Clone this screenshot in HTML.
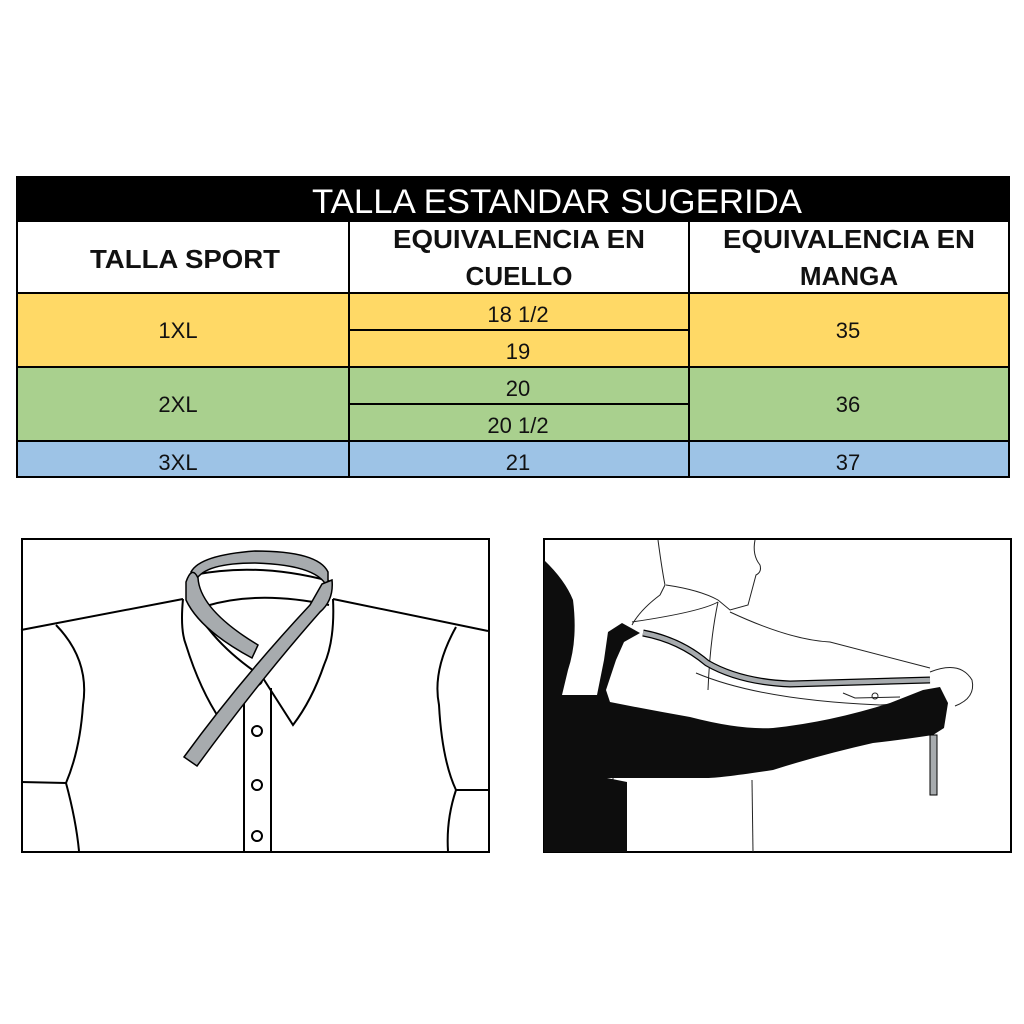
<!DOCTYPE html>
<html><head><meta charset="utf-8"><style>
html,body{margin:0;padding:0;background:#fff;}
svg{display:block}
text{font-family:"Liberation Sans",Arial,sans-serif}
</style></head><body>
<svg width="1024" height="1024" viewBox="0 0 1024 1024" xmlns="http://www.w3.org/2000/svg">
<!-- table -->
<rect x="16" y="176" width="994" height="46" fill="#000"/>
<text x="557" y="213" font-size="34" fill="#fff" text-anchor="middle" textLength="490" lengthAdjust="spacingAndGlyphs">TALLA ESTANDAR SUGERIDA</text>
<rect x="16" y="222" width="994" height="71" fill="#fff"/>
<rect x="16" y="293" width="994" height="74" fill="#ffd966"/>
<rect x="16" y="367" width="994" height="74" fill="#a9d08e"/>
<rect x="16" y="441" width="994" height="37" fill="#9dc3e6"/>
<g stroke="#000" stroke-width="2" fill="none">
<rect x="17" y="177" width="992" height="300"/>
<line x1="16" y1="293" x2="1010" y2="293"/>
<line x1="16" y1="367" x2="1010" y2="367"/>
<line x1="16" y1="441" x2="1010" y2="441"/>
<line x1="349" y1="330" x2="689" y2="330"/>
<line x1="349" y1="404" x2="689" y2="404"/>
<line x1="349" y1="222" x2="349" y2="478"/>
<line x1="689" y1="222" x2="689" y2="478"/>
</g>
<g font-weight="bold" font-size="26" text-anchor="middle" fill="#111">
<text x="185" y="268" textLength="190" lengthAdjust="spacingAndGlyphs">TALLA SPORT</text>
<text x="519" y="248" textLength="252" lengthAdjust="spacingAndGlyphs">EQUIVALENCIA EN</text>
<text x="519" y="285">CUELLO</text>
<text x="849" y="248" textLength="252" lengthAdjust="spacingAndGlyphs">EQUIVALENCIA EN</text>
<text x="849" y="285">MANGA</text>
</g>
<g font-size="22" text-anchor="middle" fill="#111" font-family="Liberation Sans">
<text x="178" y="338">1XL</text>
<text x="518" y="322">18 1/2</text>
<text x="518" y="359">19</text>
<text x="848" y="338">35</text>
<text x="178" y="412">2XL</text>
<text x="518" y="396">20</text>
<text x="518" y="433">20 1/2</text>
<text x="848" y="412">36</text>
<text x="178" y="470">3XL</text>
<text x="518" y="470">21</text>
<text x="848" y="470">37</text>
</g>

<!-- left shirt -->
<g stroke="#000" stroke-width="2" fill="none">
<rect x="22" y="539" width="467" height="313"/>
<path d="M21 630 L183 599"/>
<path d="M333 599 L488 631"/>
<path d="M56 625 Q90 660 83 705 Q80 750 66 783 Q76 820 79 851"/>
<path d="M21 782 L66 783"/>
<path d="M456 627 Q432 670 439 705 Q442 760 456 790 Q446 820 448 851"/>
<path d="M456 790 L488 790"/>
<path d="M193 575 Q258 562 329 581"/>
<path d="M206 606 Q258 590 329 605"/>
<path d="M183 599 Q180 630 186 645 Q200 690 221 721"/>
<path d="M190 600 Q210 640 254 671"/>
<path d="M333 599 Q335 640 324 665 Q312 700 293 725 L261 675"/>
<line x1="244" y1="688" x2="244" y2="852"/>
<line x1="271" y1="688" x2="271" y2="852"/>
<circle cx="257" cy="680" r="5"/>
<circle cx="257" cy="731" r="5"/>
<circle cx="257" cy="785" r="5"/>
<circle cx="257" cy="836" r="5"/>
</g>
<g fill="#a7abae" stroke="#000" stroke-width="1.5">
<path d="M191 572 Q200 555 255 551 Q318 551 328 572 L328 590 Q322 565 255 563 Q205 563 196 580 Z"/>
<path d="M186 582 Q192 565 198 578 Q200 610 258 645 L252 658 Q200 630 186 600 Z"/>
<path d="M322 584 L332 580 Q334 600 320 612 Q260 680 197 766 L184 757 Q240 680 310 605 Z"/>
</g>

<!-- right image -->
<rect x="544" y="539" width="467" height="313" fill="none" stroke="#000" stroke-width="2"/>
<g stroke="#222" stroke-width="1" fill="none">
<path d="M658 540 Q662 570 665 585 L660 595 Q640 610 632 625"/>
<path d="M755 540 Q752 555 760 565 Q762 572 756 575 Q752 590 748 605 L730 610 L718 600 Q700 590 666 585"/>
<path d="M718 602 Q700 612 632 622"/>
<path d="M718 602 Q710 640 708 690"/>
<path d="M730 612 Q790 640 830 642 L930 668"/>
<path d="M696 673 Q760 700 880 705 L925 702"/>
<path d="M930 672 Q960 660 972 680 Q976 698 955 706"/>
<path d="M843 693 L855 698 L900 697"/>
<circle cx="875" cy="696" r="3"/>
<line x1="752" y1="780" x2="753" y2="852"/>
<line x1="613" y1="703" x2="613" y2="852"/>
</g>
<path fill="#0d0d0d" d="M544 560 Q565 580 573 600 Q578 640 568 670 L562 695 L597 695 L604 660 L608 632 L622 623 L640 633 L624 642 L616 660 L606 690 L610 702 Q650 710 690 717 Q740 730 773 728 Q830 722 890 703 L923 690 L940 687 L948 703 L944 728 L933 735 Q900 740 873 743 Q820 755 773 770 Q720 778 707 778 L607 778 L627 782 L627 852 L544 852 Z"/>
<path d="M643 633 Q680 640 707 663 Q740 682 790 684 L930 680" fill="none" stroke="#000" stroke-width="7"/>
<path d="M643 633 Q680 640 707 663 Q740 682 790 684 L930 680" fill="none" stroke="#a7abae" stroke-width="4.5"/>
<rect x="930" y="735" width="7" height="60" fill="#a7abae" stroke="#000" stroke-width="1"/>
</svg>
</body></html>
